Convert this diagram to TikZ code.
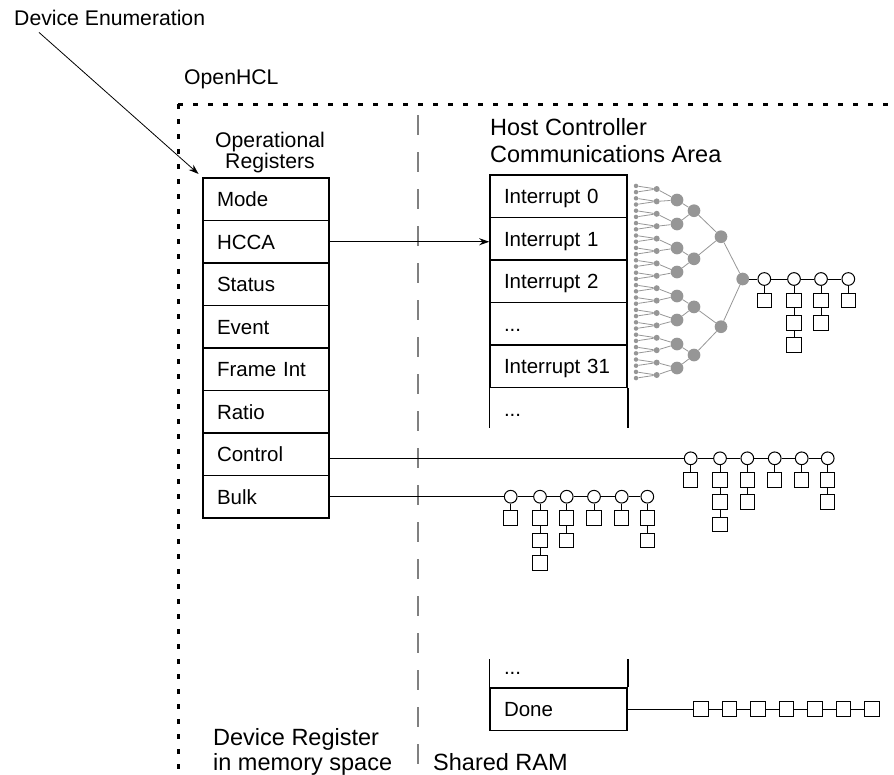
\documentclass[tikz,border=0pt]{standalone}
\usepackage{fontspec}
\setmainfont{Liberation Sans}
\usetikzlibrary{arrows.meta,calc}
\definecolor{treegray}{RGB}{150,150,150}
\definecolor{divgray}{RGB}{128,128,128}
\newcommand\rowdots{...}

\begin{document}
\begin{tikzpicture}[x=1pt, y=-1pt,
  >={Stealth[length=10pt, width=7pt]},
  font=\fontsize{20.5}{21.5}\selectfont,
  txt/.style={inner sep=0pt, anchor=base west, font=\fontsize{21.2}{21.5}\selectfont},
  hdr/.style={inner sep=0pt, anchor=base west, align=left, font=\fontsize{23.5}{27}\selectfont},
  reg/.style={draw, line width=1.5pt, text width=98pt, inner xsep=14pt, inner ysep=0pt, minimum height=42.5pt, text height=15pt, text depth=0pt, align=left},
  intr/.style={reg, text width=109pt},
  lf/.style={circle, fill=treegray, inner sep=0pt, minimum size=4.5pt},
  tn/.style={circle, fill=treegray, inner sep=0pt, minimum size=6pt},
  bn/.style={circle, fill=treegray, inner sep=0pt, minimum size=12.7pt},
  qhead/.style={circle, draw, fill=white, line width=1pt, inner sep=0pt, minimum size=12.7pt},
  qtd/.style={rectangle, draw, fill=white, line width=1pt, inner sep=0pt, minimum size=14.5pt},
  tline/.style={draw=treegray, line width=0.8pt},
  link/.style={line width=1pt},
  hclbox/.style={line width=3pt, dash pattern=on 5pt off 10pt},
  divider/.style={draw=divgray, line width=1.3pt, dash pattern=on 20pt off 17pt}
]
\useasboundingbox (0,0) rectangle (894,774);
% OpenHCL frame and divider
\draw[hclbox] (178,104) -- (178,774);
\draw[hclbox] (178,104) -- (894,104);
\draw[divider] (418,115) -- (418,774);
% labels
\node[txt] (devenum) at (14,25) {Device Enumeration};
\node[txt] (openhcl) at (184,84) {OpenHCL};
\node[inner sep=0pt, anchor=base, align=center, font=\fontsize{21.2}{21.5}\selectfont] (opregs) at (270,168.5) {Operational\\Registers};
\node[hdr] (hccahdr) at (490,162) {Host Controller\\Communications Area};
\node[hdr, font=\fontsize{23.5}{24.5}\selectfont] (devreg) at (213,770) {Device Register\\in memory space};
\node[hdr] (sram) at (433,770) {Shared RAM};
% operational registers
\foreach \nm/\lb [count=\i from 0] in {mode/Mode, hcca/HCCA, status/Status, event/Event, frint/Frame Int, ratio/Ratio, control/Control, bulk/Bulk}
  \node[reg] (\nm) at (266, 199.25+42.5*\i) {\lb};
% HCCA
\foreach \nm/\lb [count=\i from 0] in {int0/Interrupt 0, int1/Interrupt 1, int2/Interrupt 2, intd/\rowdots, int31/Interrupt 31}
  \node[intr] (\nm) at (558.5, 196.25+42.5*\i) {\lb};
\node[intr, draw=none] (intm) at (558.5, 408.75) {\rowdots};
\draw[line width=1.5pt] (int31.south west) -- ++(0,39.5);
\draw[line width=1.5pt] (int31.south east) -- ++(0,39.5);
% shared RAM done list
\node[intr] (done) at (558.5, 709.2) {Done};
\node[intr, draw=none] (ramd) at (558.5, 666.95) {\rowdots};
\draw[line width=1.5pt] (done.north west) -- ++(0,-28.7);
\draw[line width=1.5pt] (done.north east) -- ++(0,-28.7);
% arrows
\draw[->, line width=0.8pt, shorten >=5pt] ($(devenum.south west)+(25,7)$) -- (mode.north west);
\draw[->, line width=0.9pt] (hcca.east) -- (hcca.east -| int1.west);
% interrupt tree
\foreach \i in {0,...,31} \node[lf] (lf\i) at (636, 185.9+6.2*\i) {};
\foreach \k in {0,...,15} \node[tn] (ta\k) at (656.7, 189+12.4*\k) {};
\foreach \k in {0,...,7} \node[bn] (tb\k) at (677, 200+24*\k) {};
\foreach \k in {0,...,3} \node[bn] (tc\k) at (694, 210.7+48.1*\k) {};
\node[bn] (tm0) at (721, 236.7) {};
\node[bn] (tm1) at (721, 326.7) {};
\node[bn] (root) at (742.7, 279) {};
\foreach \k in {0,...,15} {
  \pgfmathtruncatemacro\ia{2*\k} \pgfmathtruncatemacro\ib{2*\k+1}
  \draw[tline] (lf\ia) -- (ta\k) -- (lf\ib);
}
\foreach \k in {0,...,7} {
  \pgfmathtruncatemacro\ia{2*\k} \pgfmathtruncatemacro\ib{2*\k+1}
  \draw[tline] (ta\ia) -- (tb\k) -- (ta\ib);
}
\foreach \k in {0,...,3} {
  \pgfmathtruncatemacro\ia{2*\k} \pgfmathtruncatemacro\ib{2*\k+1}
  \draw[tline] (tb\ia) -- (tc\k) -- (tb\ib);
}
\draw[tline] (tc0) -- (tm0) -- (tc1);
\draw[tline] (tc2) -- (tm1) -- (tc3);
\draw[tline] (tm0) -- (root) -- (tm1);
% interrupt queue
\foreach \x/\n [count=\c] in {764.3/1, 794/3, 821/2, 848.3/1} {
  \node[qhead] (hq\c) at (\x, 279) {};
  \foreach \s in {1,...,\n} {\node[qtd] (hq\c-\s) at (\x, 279+21.5+22.3*\s-22.3) {};}
  \draw[link] (hq\c) -- (hq\c-1);
  \ifnum\n>1 \foreach \s [remember=\s as \t (initially 1)] in {2,...,\n} {\draw[link] (hq\c-\t) -- (hq\c-\s);} \fi
}
\draw[link] (root) -- (hq1);
\foreach \c [remember=\c as \p (initially 1)] in {2,3,4} \draw[link] (hq\p) -- (hq\c);
% control queue
\foreach \x/\n [count=\c] in {690.7/1, 720/3, 747.3/2, 774.7/1, 801.7/1, 827.7/2} {
  \node[qhead] (cq\c) at (\x, 458.3) {};
  \foreach \s in {1,...,\n} {\node[qtd] (cq\c-\s) at (\x, 458.3+21.5+22.3*\s-22.3) {};}
  \draw[link] (cq\c) -- (cq\c-1);
  \ifnum\n>1 \foreach \s [remember=\s as \t (initially 1)] in {2,...,\n} {\draw[link] (cq\c-\t) -- (cq\c-\s);} \fi
}
\draw[link] (control.east |- cq1) -- (cq1);
\foreach \c [remember=\c as \p (initially 1)] in {2,...,6} \draw[link] (cq\p) -- (cq\c);
% bulk queue
\foreach \x/\n [count=\c] in {510.7/1, 540/3, 566.7/2, 594/1, 621.7/1, 647.3/2} {
  \node[qhead] (bq\c) at (\x, 496.7) {};
  \foreach \s in {1,...,\n} {\node[qtd] (bq\c-\s) at (\x, 496.7+21.5+22.3*\s-22.3) {};}
  \draw[link] (bq\c) -- (bq\c-1);
  \ifnum\n>1 \foreach \s [remember=\s as \t (initially 1)] in {2,...,\n} {\draw[link] (bq\c-\t) -- (bq\c-\s);} \fi
}
\draw[link] (bulk.east |- bq1) -- (bq1);
\foreach \c [remember=\c as \p (initially 1)] in {2,...,6} \draw[link] (bq\p) -- (bq\c);
% done queue
\foreach \k in {0,...,6} \node[qtd] (dn\k) at (701.2+28.5*\k, 709.2) {};
\draw[link] (done.east) -- (dn0);
\foreach \k [remember=\k as \p (initially 0)] in {1,...,6} \draw[link] (dn\p) -- (dn\k);
\end{tikzpicture}
\end{document}
